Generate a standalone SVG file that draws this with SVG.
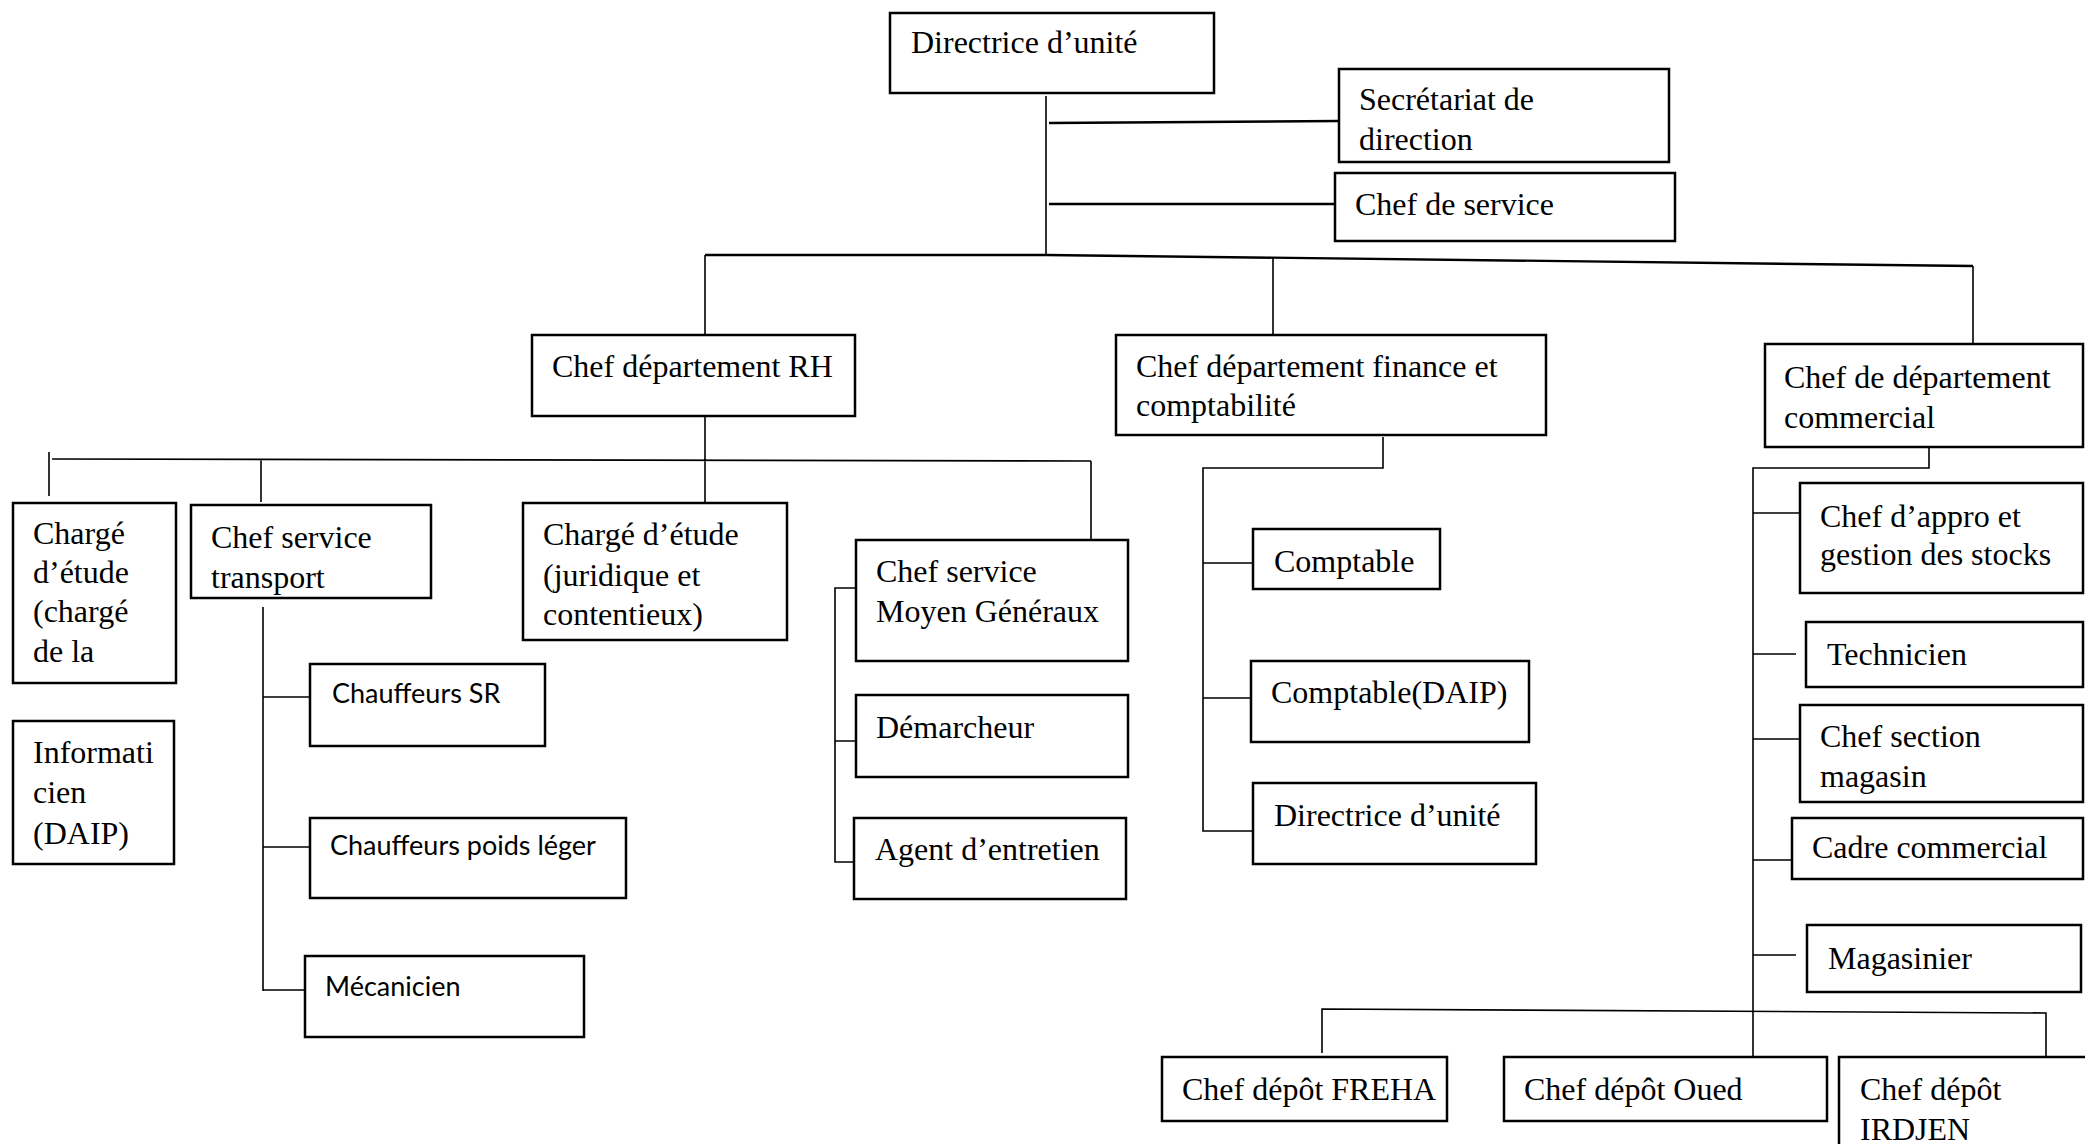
<svg xmlns="http://www.w3.org/2000/svg" width="2085" height="1144" viewBox="0 0 2085 1144">
<style>
.b{fill:#fff;stroke:#000;stroke-width:2.5}
.t{font-family:"Liberation Serif","Times New Roman",serif;font-size:32px;fill:#000}
.s{font-family:Lato,"Open Sans",sans-serif;font-size:27px;fill:#000}
.c{fill:none;stroke:#000;stroke-width:1.6}
.k{fill:none;stroke:#000;stroke-width:2.4}
</style>
<rect width="2085" height="1144" fill="#fff"/>
<g id="connectors">
<path class="c" d="M1046 96V256"/>
<path class="k" d="M1049 123L1339 121M1049 204H1335"/>
<path class="k" d="M705 255H1046L1973 266"/>
<path class="c" d="M705 255V335M1273 257V334M1973 266V343"/>
<path class="c" d="M705 416V503M52 459L1091 461M49 452V496M261 459V502M1091 461V540"/>
<path class="c" d="M263 607V991M263 697H310M263 847H310M263 990H305"/>
<path class="c" d="M856 588H835V862H854M835 741H856"/>
<path class="c" d="M1383 437V468H1203V831H1253M1203 563H1253M1203 698H1251"/>
<path class="c" d="M1929 447V468H1753V1057M1753 513H1800M1753 654H1796M1753 739H1800M1753 860H1792M1753 955H1796"/>
<path class="c" d="M1322 1053V1009L2046 1013V1057"/>
</g>
<g id="n1"><rect class="b" x="890" y="13" width="324" height="80"/><text class="t" x="911" y="53">Directrice d’unité</text></g>
<g id="n2"><rect class="b" x="1339" y="69" width="330" height="93"/><text class="t" x="1359" y="110">Secrétariat de</text><text class="t" x="1359" y="150">direction</text></g>
<g id="n3"><rect class="b" x="1335" y="173" width="340" height="68"/><text class="t" x="1355" y="215">Chef de service</text></g>
<g id="n4"><rect class="b" x="532" y="335" width="323" height="81"/><text class="t" x="552" y="377">Chef département RH</text></g>
<g id="n5"><rect class="b" x="1116" y="335" width="430" height="100"/><text class="t" x="1136" y="377">Chef département finance et</text><text class="t" x="1136" y="416">comptabilité</text></g>
<g id="n6"><rect class="b" x="1765" y="344" width="318" height="103"/><text class="t" x="1784" y="388">Chef de département</text><text class="t" x="1784" y="428">commercial</text></g>
<g id="n7"><rect class="b" x="13" y="503" width="163" height="180"/><text class="t" x="33" y="544">Chargé</text><text class="t" x="33" y="583">d’étude</text><text class="t" x="33" y="622">(chargé</text><text class="t" x="33" y="662">de la</text></g>
<g id="n8"><rect class="b" x="191" y="505" width="240" height="93"/><text class="t" x="211" y="548">Chef service</text><text class="t" x="211" y="588">transport</text></g>
<g id="n9"><rect class="b" x="523" y="503" width="264" height="137"/><text class="t" x="543" y="545">Chargé d’étude</text><text class="t" x="543" y="586">(juridique et</text><text class="t" x="543" y="625">contentieux)</text></g>
<g id="n10"><rect class="b" x="856" y="540" width="272" height="121"/><text class="t" x="876" y="582">Chef service</text><text class="t" x="876" y="622">Moyen Généraux</text></g>
<g id="n11"><rect class="b" x="13" y="721" width="161" height="143"/><text class="t" x="33" y="763">Informati</text><text class="t" x="33" y="803">cien</text><text class="t" x="33" y="844">(DAIP)</text></g>
<g id="n12"><rect class="b" x="310" y="664" width="235" height="82"/><text class="s" x="332" y="703">Chauffeurs SR</text></g>
<g id="n13"><rect class="b" x="310" y="818" width="316" height="80"/><text class="s" x="330" y="855">Chauffeurs poids léger</text></g>
<g id="n14"><rect class="b" x="305" y="956" width="279" height="81"/><text class="s" x="325" y="996">Mécanicien</text></g>
<g id="n15"><rect class="b" x="856" y="695" width="272" height="82"/><text class="t" x="876" y="738">Démarcheur</text></g>
<g id="n16"><rect class="b" x="854" y="818" width="272" height="81"/><text class="t" x="875" y="860">Agent d’entretien</text></g>
<g id="n17"><rect class="b" x="1253" y="529" width="187" height="60"/><text class="t" x="1274" y="572">Comptable</text></g>
<g id="n18"><rect class="b" x="1251" y="661" width="278" height="81"/><text class="t" x="1271" y="703">Comptable(DAIP)</text></g>
<g id="n19"><rect class="b" x="1253" y="783" width="283" height="81"/><text class="t" x="1274" y="826">Directrice d’unité</text></g>
<g id="n20"><rect class="b" x="1800" y="483" width="283" height="110"/><text class="t" x="1820" y="527">Chef d’appro et</text><text class="t" x="1820" y="565">gestion des stocks</text></g>
<g id="n21"><rect class="b" x="1806" y="622" width="277" height="65"/><text class="t" x="1827" y="665">Technicien</text></g>
<g id="n22"><rect class="b" x="1800" y="705" width="283" height="97"/><text class="t" x="1820" y="747">Chef section</text><text class="t" x="1820" y="787">magasin</text></g>
<g id="n23"><rect class="b" x="1792" y="818" width="291" height="61"/><text class="t" x="1812" y="858">Cadre commercial</text></g>
<g id="n24"><rect class="b" x="1807" y="925" width="274" height="67"/><text class="t" x="1828" y="969">Magasinier</text></g>
<g id="n25"><rect class="b" x="1162" y="1057" width="285" height="64"/><text class="t" x="1182" y="1100">Chef dépôt FREHA</text></g>
<g id="n26"><rect class="b" x="1504" y="1057" width="323" height="64"/><text class="t" x="1524" y="1100">Chef dépôt Oued</text></g>
<g id="n27"><rect class="b" x="1839" y="1057" width="250" height="100"/><text class="t" x="1860" y="1100">Chef dépôt</text><text class="t" x="1860" y="1140">IRDJEN</text></g>
</svg>
